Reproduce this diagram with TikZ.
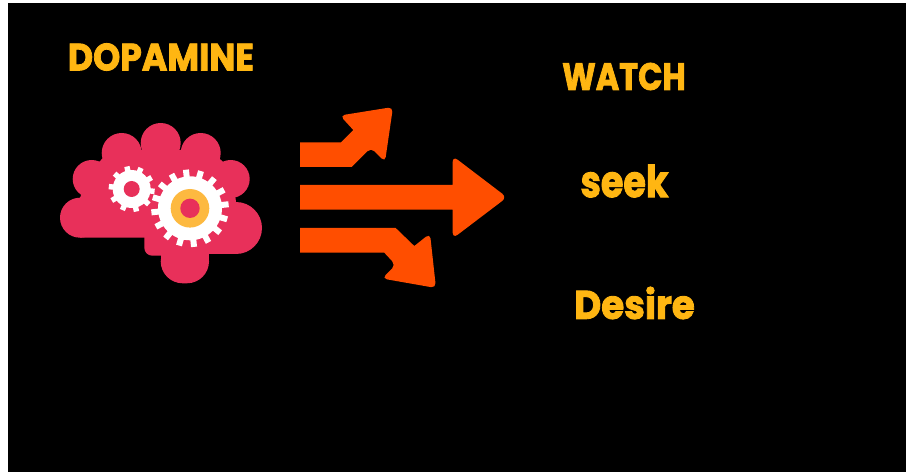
\documentclass[tikz,border=0pt]{standalone}
\usepackage{fontspec}
\setmainfont{Poppins}[BoldFeatures={FakeBold=2.2}]
\definecolor{brainred}{HTML}{E8305A}
\definecolor{arroworange}{HTML}{FF4E00}
\definecolor{wordyellow}{HTML}{FFB612}
\definecolor{ringyellow}{HTML}{FDB940}
\tikzstyle{word} = [text=wordyellow, inner sep=0pt]
\tikzstyle{lobe} = [fill=brainred]
\tikzstyle{gear} = [fill=white]
\tikzstyle{bolt} = [fill=arroworange]

\begin{document}
\begin{tikzpicture}[x=1pt, y=-1pt]
        \useasboundingbox (0,0) rectangle (906,476);
        \fill[white] (0,0) rectangle (906,476);
        \fill[black] (8,3) rectangle (906,472);

        % Brain
        \fill[lobe] (160.7,143) circle (20);
        \fill[lobe] (121.7,153) circle (20);
        \fill[lobe] (200.7,153) circle (20);
        \fill[lobe] (91.7,179) circle (19);
        \fill[lobe] (230.7,179) circle (19);
        \fill[lobe] (80,217.7) circle (20);
        \fill[lobe] (236,228) circle (26);
        \fill[lobe] (92,170) -- (110,150) -- (210,150) -- (232,170) -- (236,202) -- (236,254) -- (170,254) -- (170,237.7) -- (80,237.7) -- (80,197.7) -- cycle;
        \fill[lobe, rounded corners=8pt] (144.3,228) rectangle (175,255.7);
        \fill[lobe, rounded corners=22pt] (160.7,240) -- (160.7,283.3) -- (209,283.3) -- (209,240) -- cycle;
        \fill[lobe] (160.7,240) rectangle (209,262);

        % Gears
        \foreach \a in {0,22.5,...,337.5}
            \fill[gear, rotate around={\a+6:(190,208.3)}] (187,169.5) rectangle (193,180);
        \fill[gear] (190,208.3) circle (32);
        \fill[ringyellow] (190,208.3) circle (19.3);
        \fill[brainred] (190,208.3) circle (9.7);
        \foreach \a in {0,36,...,324}
            \fill[gear, rotate around={\a+12:(131.7,189)}] (129,166) rectangle (134.4,175);
        \fill[gear] (131.7,189) circle (19);
        \fill[brainred] (131.7,189) circle (8);

        % Arrows
        \fill[bolt] (300,142.3) -- (341,142.3) -- (353.3,130) [rounded corners=5pt] -- (340,115.5) -- (393,107) -- (385,162) -- (371,147.7) [sharp corners] -- (351.7,167) -- (300,167) -- cycle;
        \fill[bolt] (300,185) -- (452.7,185) [rounded corners=6pt] -- (452.7,156) -- (507,197.3) -- (452.7,238.5) [sharp corners] -- (452.7,209.7) -- (300,209.7) -- cycle;
        \fill[bolt] (300,228) -- (395.7,228) -- (414.3,246) [rounded corners=5pt] -- (430,233.5) -- (436,288) -- (382,278.5) -- (395.7,265) [sharp corners] -- (384.3,252.7) -- (300,252.7) -- cycle;

        % Words
        \node [word, font=\fontsize{38}{38}\selectfont\bfseries, xscale=0.91] (dopamine) at (161,57) {DOPAMINE};
        \node [word, font=\fontsize{38}{38}\selectfont\bfseries, xscale=0.84] (watch) at (624,76.5) {WATCH};
        \node [word, font=\fontsize{44}{44}\selectfont\bfseries, xscale=0.83] (seek) at (624.5,181) {seek};
        \node [word, font=\fontsize{40}{40}\selectfont\bfseries, xscale=0.93] (desire) at (634.5,303) {Desire};
\end{tikzpicture}
\end{document}
